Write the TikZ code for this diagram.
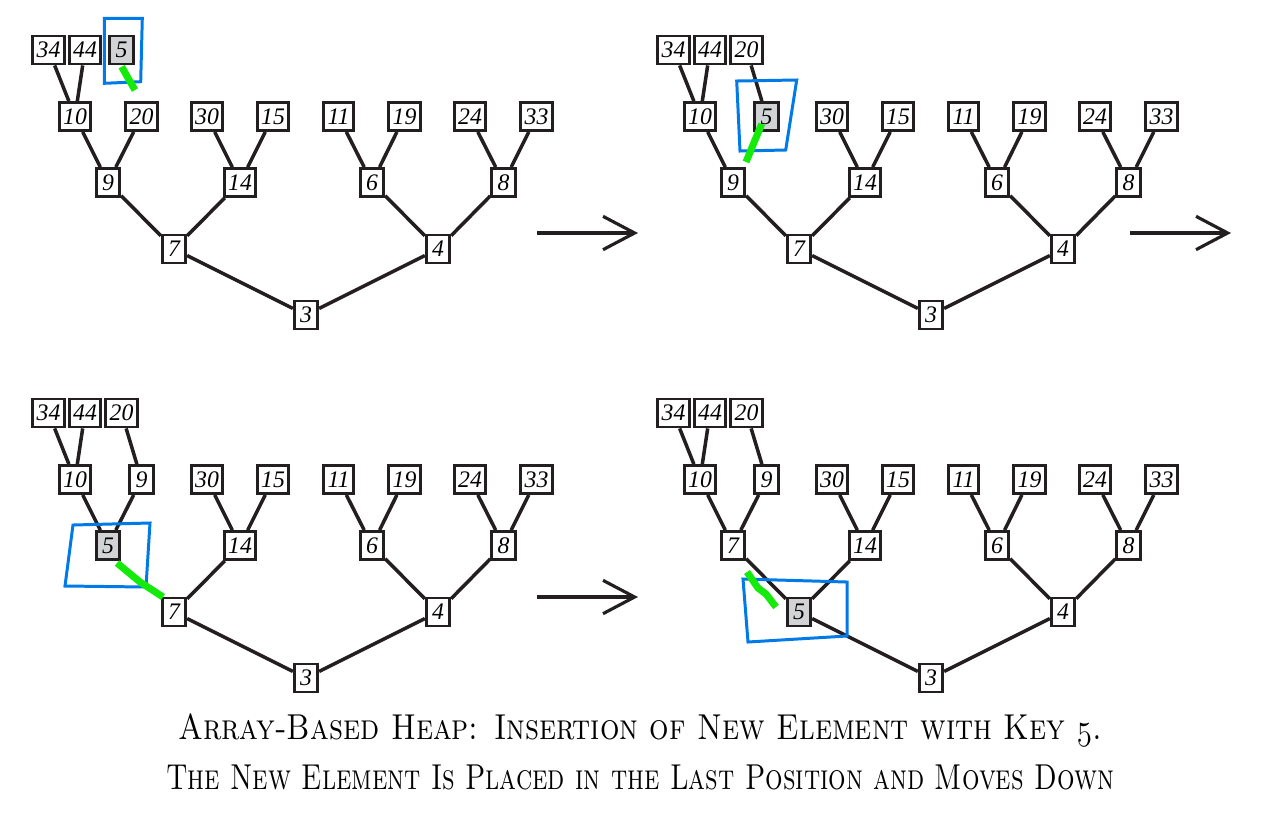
\documentclass[tikz,border=0pt]{standalone}
\usepackage{fontspec}
\usepackage{graphicx}
\usepackage{tikz}
\usetikzlibrary{arrows.meta,positioning}
\newfontfamily\keyfont{Liberation Serif}
\definecolor{ink}{RGB}{35,31,32}
\definecolor{newgray}{RGB}{210,211,213}
\definecolor{boxblue}{RGB}{0,122,230}
\definecolor{pathgreen}{RGB}{20,235,10}

\begin{document}
\begin{tikzpicture}[
  x=0.02cm, y=-0.02cm,
  key/.style={draw=ink, line width=1.6pt, fill=white, minimum width=0.47cm, minimum height=0.56cm, inner xsep=0.08cm, inner ysep=0pt, font=\keyfont\fontsize{13.5}{13.5}\selectfont\itshape},
  newkey/.style={key, fill=newgray},
  link/.style={draw=ink, line width=2pt},
  moveto/.style={-{Straight Barb[length=18pt, width=19pt]}, draw=ink, line width=1.8pt},
  hilite/.style={draw=boxblue, line width=1.7pt},
  trail/.style={draw=pathgreen, line width=4pt},
  caption/.style={anchor=base, font=\fontsize{20.5}{24}\selectfont}
]
\useasboundingbox (0,0) rectangle (1280,812);

% step 1: new key 5 in the last slot
\begin{scope}
\foreach \k/\x/\y in {34/48.5/50, 44/85/50, 10/75/116.5, 20/141.5/116.5, 30/207/116.5, 15/273/116.5, 11/338.5/116.5, 19/404.5/116.5, 24/470/116.5, 33/536.5/116.5, 9/108/182.5, 14/240/182.5, 6/372/182.5, 8/503.5/182.5, 7/174/249, 4/438/249, 3/306/315}
  \node[key] (a\k) at (\x,\y) {\k};
\node[newkey] (a5) at (121.5,50) {5};
\foreach \u/\v in {34/10, 44/10, 10/9, 20/9, 30/14, 15/14, 11/6, 19/6, 24/8, 33/8, 9/7, 14/7, 6/4, 8/4, 7/3, 4/3}
  \draw[link] (a\u) -- (a\v);
\end{scope}

% step 2: 5 swapped with 20
\begin{scope}[shift={(625,0)}]
\foreach \k/\x/\y in {34/48.5/50, 44/85/50, 20/121.5/50, 10/75/116.5, 30/207/116.5, 15/273/116.5, 11/338.5/116.5, 19/404.5/116.5, 24/470/116.5, 33/536.5/116.5, 9/108/182.5, 14/240/182.5, 6/372/182.5, 8/503.5/182.5, 7/174/249, 4/438/249, 3/306/315}
  \node[key] (b\k) at (\x,\y) {\k};
\node[newkey] (b5) at (141.5,116.5) {5};
\foreach \u/\v in {34/10, 44/10, 20/5, 10/9, 30/14, 15/14, 11/6, 19/6, 24/8, 33/8, 9/7, 14/7, 6/4, 8/4, 7/3, 4/3}
  \draw[link] (b\u) -- (b\v);
\end{scope}

% step 3: 5 swapped with 9
\begin{scope}[shift={(0,363)}]
\foreach \k/\x/\y in {34/48.5/50, 44/85/50, 20/121.5/50, 10/75/116.5, 9/141.5/116.5, 30/207/116.5, 15/273/116.5, 11/338.5/116.5, 19/404.5/116.5, 24/470/116.5, 33/536.5/116.5, 14/240/182.5, 6/372/182.5, 8/503.5/182.5, 7/174/249, 4/438/249, 3/306/315}
  \node[key] (c\k) at (\x,\y) {\k};
\node[newkey] (c5) at (108,182.5) {5};
\foreach \u/\v in {34/10, 44/10, 20/9, 10/5, 9/5, 30/14, 15/14, 11/6, 19/6, 24/8, 33/8, 14/7, 6/4, 8/4, 7/3, 4/3}
  \draw[link] (c\u) -- (c\v);
\end{scope}

% step 4: 5 swapped with 7
\begin{scope}[shift={(625,363)}]
\foreach \k/\x/\y in {34/48.5/50, 44/85/50, 20/121.5/50, 10/75/116.5, 9/141.5/116.5, 30/207/116.5, 15/273/116.5, 11/338.5/116.5, 19/404.5/116.5, 24/470/116.5, 33/536.5/116.5, 7/108/182.5, 14/240/182.5, 6/372/182.5, 8/503.5/182.5, 4/438/249, 3/306/315}
  \node[key] (d\k) at (\x,\y) {\k};
\node[newkey] (d5) at (174,249) {5};
\foreach \u/\v in {34/10, 44/10, 20/9, 10/7, 9/7, 7/5, 14/5, 30/14, 15/14, 11/6, 19/6, 24/8, 33/8, 6/4, 8/4, 5/3, 4/3}
  \draw[link] (d\u) -- (d\v);
\end{scope}

% marks
\draw[hilite] (104.3,18.3) -- (142.3,18.3) -- (140.7,81.7) -- (104.3,83.3) -- cycle;
\draw[trail] (121.7,66.7) -- (128,78) -- (135,90);
\draw[hilite] (736.7,81) -- (796.7,80) -- (785.7,150) -- (740,151) -- cycle;
\draw[trail] (761.7,124) -- (755,140) -- (746,162);
\draw[hilite] (73,525) -- (150,523) -- (146,587) -- (65,586) -- cycle;
\draw[trail] (117,563) -- (140,582) -- (163,597);
\draw[hilite] (743,579) -- (847,582) -- (847,636) -- (748,642) -- cycle;
\draw[trail] (747,572) -- (758,588) -- (766,594) -- (776,607);

% arrows between steps
\coordinate (s1) at (537,233); \coordinate (t1) at (638,233);
\coordinate (s2) at (1130,233); \coordinate (t2) at (1231,233);
\coordinate (s3) at (537,597); \coordinate (t3) at (638,597);
\draw[moveto] (s1) -- (t1);
\draw[moveto] (s2) -- (t2);
\draw[moveto] (s3) -- (t3);

\node[caption] (cap1) at (640,739) {\scalebox{0.85}[1]{\textsc{Array-Based Heap: Insertion of New Element with Key $\mathnormal{5}$.}}};
\node[caption] (cap2) at (640,789) {\scalebox{0.765}[1]{\textsc{The New Element Is Placed in the Last Position and Moves Down}}};
\end{tikzpicture}
\end{document}
